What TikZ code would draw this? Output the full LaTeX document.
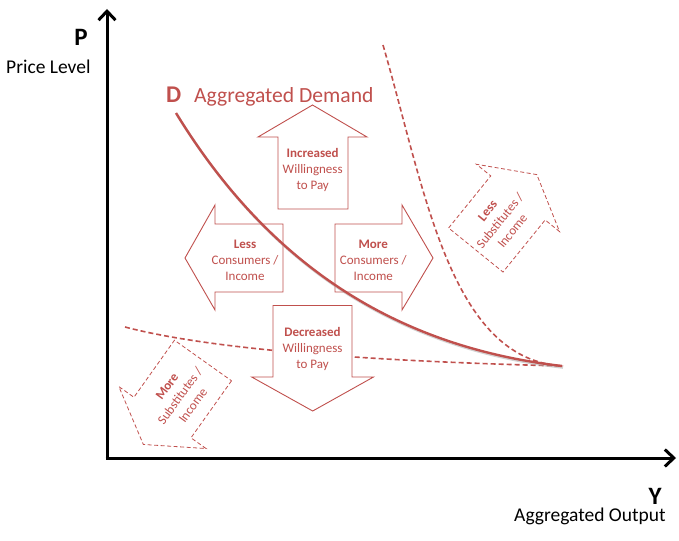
\documentclass[tikz,border=0pt]{standalone}
\usepackage{fontspec}
\setmainfont{Carlito}
\usetikzlibrary{arrows.meta}
\definecolor{dred}{HTML}{C0504D}
\begin{document}
\begin{tikzpicture}[x=1pt,y=-1pt,
  blockarrow/.style={draw=dred,line width=0.9pt,fill=white,line join=miter},
  dasharrow/.style={draw=dred,line width=0.8pt,dash pattern=on 4pt off 2.5pt},
  dashcurve/.style={draw=dred,line width=1.6pt,dash pattern=on 5pt off 3pt},
  axisline/.style={line width=3pt,-{Straight Barb[length=9pt,width=17pt]}},
  lbl/.style={text=dred,font=\fontsize{13}{16}\selectfont,align=center,inner sep=0pt},
  axlbl/.style={font=\fontsize{19.5}{22}\selectfont,inner sep=0pt},
  axletter/.style={font=\bfseries\fontsize{25}{28}\selectfont,inner sep=0pt},
]
\useasboundingbox (0,0) rectangle (679,540);

% axes
\coordinate (O) at (107,458);
\coordinate (ytip) at (107,9);
\coordinate (xtip) at (676,458);
\draw[axisline] ([yshift=-1.5pt]O) -- (ytip);
\draw[axisline] ([xshift=-1.5pt]O) -- (xtip);

\node[axletter] (P) at (81,37) {P};
\node[axlbl,anchor=base west] (PL) at (6,73.3) {Price Level};
\node[axletter] (Y) at (655,496) {Y};
\node[axlbl,anchor=base west] (YL) at (514,521) {Aggregated Output};

% dashed curves
\coordinate (E) at (563,366);
\coordinate (S1) at (125,327);
\coordinate (S2) at (383,45);
\draw[dashcurve] (S1) .. controls (220,352) and (400,362) .. (E);
\draw[dashcurve] (S2) .. controls (425,190) and (450,360) .. (E);

% block arrows
\draw[blockarrow] (278,209)--(278,137)--(258,137)--(312.5,105)--(367,137)--(348,137)--(348,209)--cycle;
\draw[blockarrow] (283,224)--(215,224)--(215,205)--(185,258)--(215,310)--(215,292)--(283,292)--cycle;
\draw[blockarrow] (335,224)--(402,224)--(402,205)--(433,258)--(402,310)--(402,292)--(335,292)--cycle;
\draw[blockarrow] (273,305.5)--(352,305.5)--(352,377)--(373.5,377)--(312.7,411)--(251.7,377)--(273,377)--cycle;

% dashed rotated arrows
\begin{scope}[shift={(475.8,250)},rotate=51]
\draw[dasharrow] (0,-35)--(67,-35)--(67,-53.5)--(97,0)--(67,53.5)--(67,35)--(0,35)--cycle;
\end{scope}
\begin{scope}[shift={(203,360.5)},rotate=-125.4]
\draw[dasharrow] (0,-35)--(70,-35)--(70,-53.5)--(103,0)--(70,53.5)--(70,35)--(0,35)--cycle;
\end{scope}

% demand curve
\coordinate (DS) at (176,113);
\coordinate (DE) at (562,366);
\draw[black!35,opacity=0.5,line width=2.4pt] ([shift={(1,1.6)}]DS) .. controls (261,251.6) and (381,346.6) .. ([shift={(1,1.6)}]DE);
\draw[dred,line width=2.4pt] (DS) .. controls (260,250) and (380,345) .. (DE);

\node[text=dred,font=\bfseries\fontsize{24}{27}\selectfont,anchor=base west,inner sep=0pt] (D) at (166,102.7) {D};
\node[text=dred,font=\fontsize{21.6}{24}\selectfont,anchor=base west,inner sep=0pt] (AD) at (194,102.7) {Aggregated Demand};

% labels
\node[lbl] (inc) at (312.7,170) {\textbf{Increased}\\Willingness\\to Pay};
\node[lbl] (lessc) at (245,260.5) {\textbf{Less}\\Consumers /\\Income};
\node[lbl] (morec) at (373.3,260.5) {\textbf{More}\\Consumers /\\Income};
\node[lbl] (dec) at (312.5,349) {\textbf{Decreased}\\Willingness\\to Pay};
\node[lbl,rotate=51] (lesss) at (500,221) {\textbf{Less}\\Substitutes /\\Income};
\node[lbl,rotate=54] (mores) at (180,396) {\textbf{More}\\Substitutes /\\Income};
\end{tikzpicture}
\end{document}
